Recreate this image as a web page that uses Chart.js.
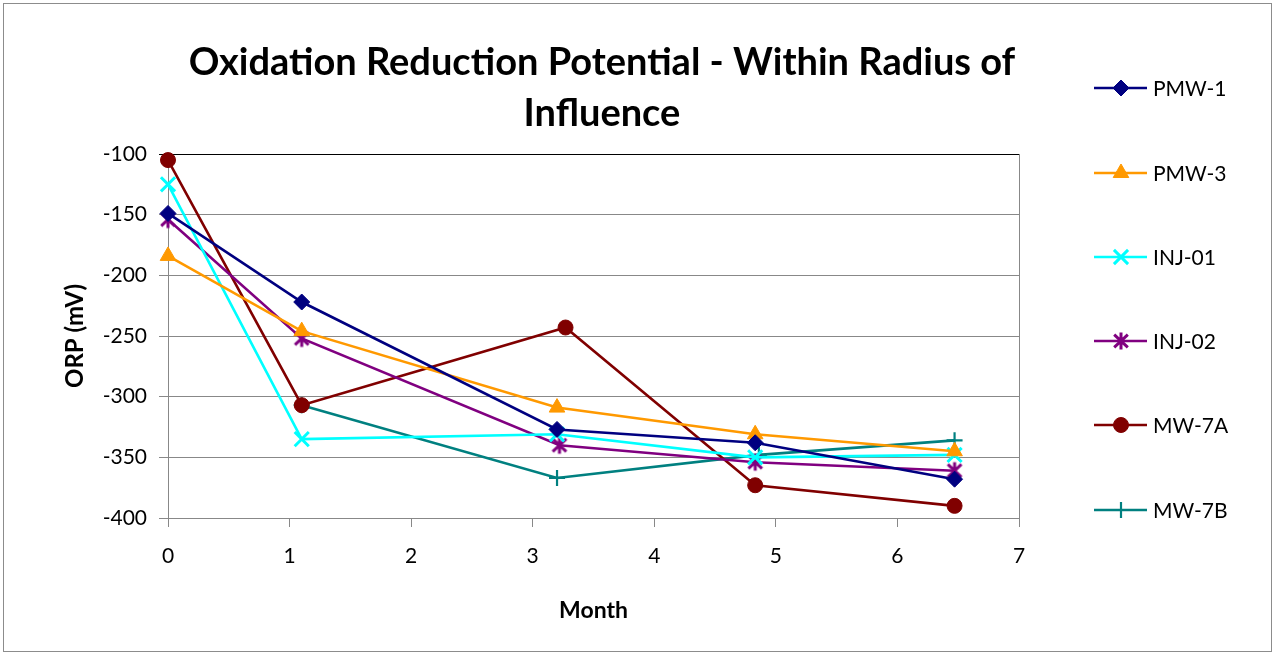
<!DOCTYPE html>
<html>
<head>
<meta charset="utf-8">
<script src="https://cdn.jsdelivr.net/npm/chart.js@4.4.0/dist/chart.umd.min.js"></script>
<style>
  html, body { margin: 0; padding: 0; background: #fff; }
  #wrap { width: 1275px; height: 655px; position: relative; }
</style>
</head>
<body>
<div id="wrap"><canvas id="c" width="1275" height="655"></canvas></div>
<script>
// ---- Data ----
const chartTitle = ['Oxidation Reduction Potential - Within Radius of', 'Influence'];
const xAxisTitle = 'Month';
const yAxisTitle = 'ORP (mV)';
const seriesNames = ['PMW-1', 'PMW-3', 'INJ-01', 'INJ-02', 'MW-7A', 'MW-7B'];

const monthsPMW1 = [0, 1.1, 3.2, 4.83, 6.47];
const orpPMW1    = [-149, -222, -327, -338, -368];

const monthsPMW3 = [0, 1.1, 3.2, 4.83, 6.47];
const orpPMW3    = [-184, -246, -309, -331, -345];

const monthsINJ01 = [0, 1.1, 3.2, 4.83, 6.47];
const orpINJ01    = [-125, -335, -331, -350, -348];

const monthsINJ02 = [0, 1.1, 3.22, 4.83, 6.47];
const orpINJ02    = [-154, -252, -340, -354, -361];

const monthsMW7A = [0, 1.1, 3.27, 4.83, 6.47];
const orpMW7A    = [-105, -307, -243, -373, -390];

const monthsMW7B = [1.1, 3.2, 4.86, 6.47];
const orpMW7B    = [-307, -367, -348, -336];

const xTicks = [0, 1, 2, 3, 4, 5, 6, 7];
const yTicks = [-100, -150, -200, -250, -300, -350, -400];

// ---- Styles ----
const FONT = 'Lato, "Open Sans", sans-serif';

function starImage(color) {
  const s = 22, c = document.createElement('canvas');
  c.width = s; c.height = s;
  const g = c.getContext('2d');
  g.strokeStyle = color; g.lineWidth = 3; g.lineCap = 'butt';
  const m = s / 2, r = 8.5;
  g.beginPath();
  g.moveTo(m, m - r); g.lineTo(m, m + r);
  g.moveTo(m - r * 0.8, m - r * 0.75); g.lineTo(m + r * 0.8, m + r * 0.75);
  g.moveTo(m + r * 0.8, m - r * 0.75); g.lineTo(m - r * 0.8, m + r * 0.75);
  g.stroke();
  return c;
}

function pts(xs, ys) { return xs.map((x, i) => ({ x: x, y: ys[i] })); }

const styles = [
  { color: '#000080', pointStyle: 'rectRot', radius: 8, borderW: 1 },
  { color: '#FF9900', pointStyle: 'triangle', radius: 9, borderW: 1 },
  { color: '#00FFFF', pointStyle: 'crossRot', radius: 10, borderW: 3 },
  { color: '#800080', pointStyle: starImage('#800080'), radius: 9, borderW: 2 },
  { color: '#800000', pointStyle: 'circle', radius: 7.5, borderW: 1 },
  { color: '#008080', pointStyle: 'cross', radius: 8, borderW: 2.2 }
];
const seriesData = [
  pts(monthsPMW1, orpPMW1),
  pts(monthsPMW3, orpPMW3),
  pts(monthsINJ01, orpINJ01),
  pts(monthsINJ02, orpINJ02),
  pts(monthsMW7A, orpMW7A),
  pts(monthsMW7B, orpMW7B)
];

const datasets = seriesNames.map((name, i) => ({
  label: name,
  data: seriesData[i],
  showLine: true,
  borderColor: styles[i].color,
  backgroundColor: styles[i].color,
  borderWidth: 2.6,
  pointStyle: styles[i].pointStyle,
  pointRadius: styles[i].radius,
  pointHoverRadius: styles[i].radius,
  pointBorderWidth: styles[i].borderW,
  pointBorderColor: styles[i].color,
  pointBackgroundColor: styles[i].color,
  tension: 0,
  clip: false
}));

// ---- Custom drawing: title, legend, frame ----
const decorPlugin = {
  id: 'decor',
  afterDraw(chart) {
    const ctx = chart.ctx, ca = chart.chartArea;
    ctx.save();
    // outer frame
    ctx.strokeStyle = '#8c8c8c'; ctx.lineWidth = 1;
    ctx.strokeRect(3.5, 3.5, 1268, 648);
    // right border of plot area
    ctx.strokeStyle = '#888'; ctx.lineWidth = 1;
    ctx.beginPath(); ctx.moveTo(Math.round(ca.right) + 0.5, ca.top); ctx.lineTo(Math.round(ca.right) + 0.5, ca.bottom); ctx.stroke();
    // title
    ctx.fillStyle = '#000';
    ctx.font = 'bold 38px ' + FONT;
    ctx.textAlign = 'center'; ctx.textBaseline = 'alphabetic';
    ctx.fillText(chartTitle[0], 602, 75);
    ctx.fillText(chartTitle[1], 602, 126);
    // legend
    const ys = [88, 173, 257, 341, 425, 510];
    chart.data.datasets.forEach((ds, i) => {
      const y = ys[i];
      ctx.strokeStyle = ds.borderColor; ctx.lineWidth = 2.6;
      ctx.beginPath(); ctx.moveTo(1094, y); ctx.lineTo(1147, y); ctx.stroke();
      ctx.fillStyle = ds.pointBackgroundColor; ctx.strokeStyle = ds.pointBorderColor;
      ctx.lineWidth = ds.pointBorderWidth;
      Chart.helpers.drawPoint(ctx, { pointStyle: ds.pointStyle, radius: ds.pointRadius, rotation: 0, borderWidth: ds.pointBorderWidth }, 1121, y);
      ctx.fillStyle = '#000';
      ctx.font = '21px ' + FONT;
      ctx.textAlign = 'left'; ctx.textBaseline = 'middle';
      ctx.fillText(ds.label, 1153, y + 1);
    });
    ctx.restore();
  }
};

new Chart(document.getElementById('c'), {
  type: 'scatter',
  data: { datasets: datasets },
  options: {
    responsive: false,
    animation: false,
    events: [],
    layout: { padding: { left: 0, top: 154, right: 256, bottom: 0 } },
    plugins: { legend: { display: false }, title: { display: false }, tooltip: { enabled: false } },
    scales: {
      x: {
        type: 'linear', min: 0, max: 7,
        afterBuildTicks(scale) { scale.ticks = xTicks.map(v => ({ value: v })); },
        afterFit(scale) { scale.height = 655 - 518; },
        ticks: { color: '#000', font: { family: FONT, size: 21 }, padding: 17, maxRotation: 0 },
        grid: { display: true, drawOnChartArea: false, drawTicks: true, tickLength: 9, color: '#888', lineWidth: 1 },
        border: { display: true, color: '#888', width: 1 },
        title: { display: true, text: xAxisTitle, color: '#000', font: { family: FONT, size: 23, weight: 'bold' }, padding: { top: 0, bottom: 31 } }
      },
      y: {
        type: 'linear', min: -400, max: -100,
        afterBuildTicks(scale) { scale.ticks = yTicks.map(v => ({ value: v })); },
        afterFit(scale) { scale.width = 168; },
        ticks: { color: '#000', font: { family: FONT, size: 21 }, padding: 12 },
        grid: { color: ctx => (ctx.tick && ctx.tick.value === -100) ? '#000' : '#888', lineWidth: 1, tickLength: 9 },
        border: { display: true, color: '#888', width: 1 },
        title: { display: true, text: yAxisTitle, color: '#000', font: { family: FONT, size: 24, weight: 'bold' }, padding: { top: 61, bottom: 0 } }
      }
    }
  },
  plugins: [decorPlugin]
});
</script>
</body>
</html>
